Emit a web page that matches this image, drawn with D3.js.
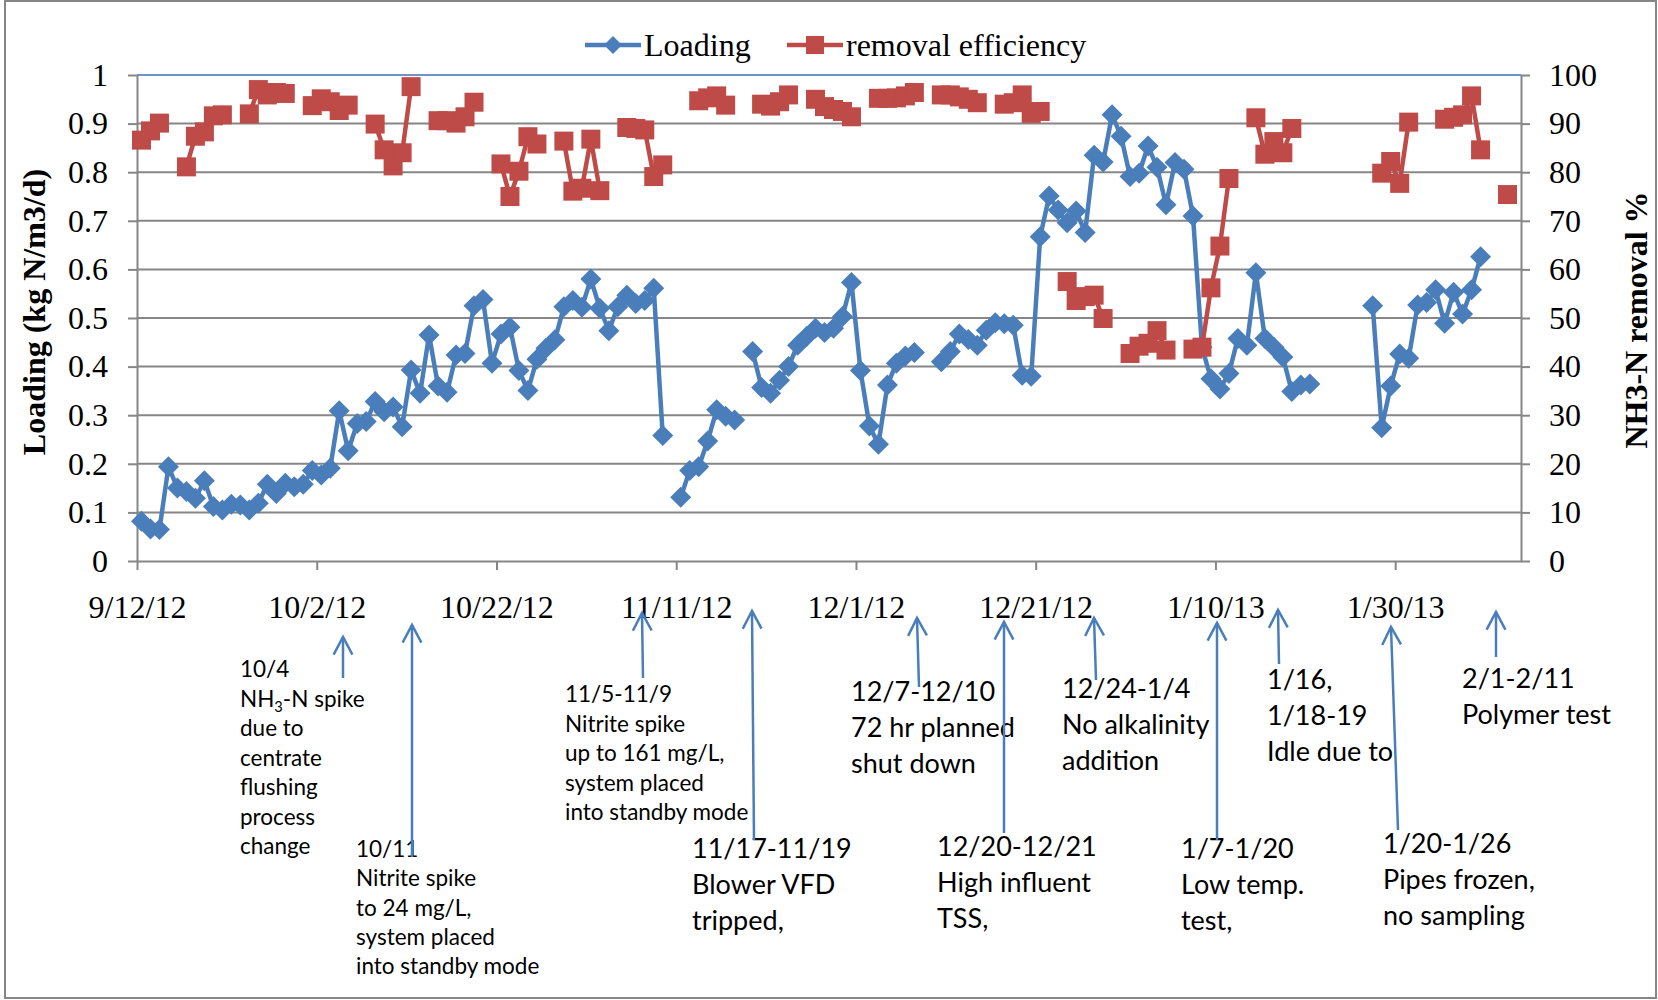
<!DOCTYPE html>
<html>
<head>
<meta charset="utf-8">
<script src="https://cdn.jsdelivr.net/npm/d3@7"></script>
<style>
  body { margin: 0; background: #fff; }
  svg { display: block; }
  .axis text { font-family: "Liberation Serif", "Times New Roman", serif; font-size: 32px; fill: #000; }
  .axis path, .axis line { stroke: #868686; stroke-width: 2; }
  .title { font-family: "Liberation Serif", "Times New Roman", serif; font-size: 32px; font-weight: bold; fill: #000; }
  .legend { font-family: "Liberation Serif", "Times New Roman", serif; font-size: 32px; fill: #000; }
  .note { font-family: Lato, "Open Sans", sans-serif; fill: #000; }
</style>
</head>
<body>
<svg id="chart" width="1658" height="1000"></svg>
<script>
// first sampling day, values below are one per day from here (null = no sample)
var startDay = "2012-09-12";

// Loading (kg N/m3/d), left axis
var loading = [
  0.082, 0.066, 0.065, 0.194, 0.150, 0.143, 0.129, 0.165, 0.112, 0.105,
  0.117, 0.115, 0.105, 0.119, 0.158, 0.139, 0.160, 0.153, 0.158, 0.186,
  0.177, 0.191, 0.309, 0.227, 0.283, 0.287, 0.328, 0.307, 0.317, 0.276,
  0.393, 0.345, 0.465, 0.360, 0.347, 0.424, 0.427, 0.525, 0.538, 0.407,
  0.467, 0.481, 0.392, 0.351, 0.415, 0.438, 0.455, 0.523, 0.536, 0.522,
  0.580, 0.520, 0.474, 0.523, 0.547, 0.530, 0.536, 0.561, 0.258, null,
  0.131, 0.186, 0.194, 0.247, 0.311, 0.298, 0.290, null, 0.431, 0.357,
  0.345, 0.372, 0.400, 0.444, 0.462, 0.479, 0.470, 0.479, 0.503, 0.573,
  0.392, 0.278, 0.240, 0.362, 0.407, 0.422, 0.429, null, null, 0.410,
  0.431, 0.467, 0.456, 0.444, 0.475, 0.490, 0.488, 0.485, 0.382, 0.380,
  0.667, 0.751, 0.722, 0.696, 0.720, 0.676, 0.835, 0.821, 0.918, 0.874,
  0.791, 0.798, 0.854, 0.810, 0.733, 0.820, 0.806, 0.710, 0.440, 0.375,
  0.354, 0.386, 0.458, 0.444, 0.593, 0.458, 0.440, 0.420, 0.349, 0.362,
  0.364, null, null, null, null, null, null, 0.525, 0.274, 0.360,
  0.426, 0.417, 0.527, 0.532, 0.558, 0.489, 0.553, 0.508, 0.558, 0.626
];

// NH3-N removal efficiency (%), right axis
var removal = [
  86.6, 88.5, 90.1, null, null, 81.1, 87.4, 88.3, 91.6, 91.8,
  null, null, 92.0, 97.0, 95.9, 96.4, 96.2, null, null, 93.7,
  95.1, 94.5, 92.7, 93.8, null, null, 89.9, 84.6, 81.3, 84.0,
  97.6, null, null, 90.6, 90.6, 90.1, 91.4, 94.4, null, null,
  81.7, 75.0, 80.2, 87.3, 85.8, null, null, 86.4, 76.1, 76.7,
  86.8, 76.2, null, null, 89.2, 89.0, 88.7, 79.1, 81.5, null,
  null, null, 94.7, 95.3, 95.7, 93.8, null, null, null, 94.0,
  93.6, 94.5, 95.9, null, null, 95.0, 93.5, 92.9, 92.5, 91.4,
  null, null, 95.2, 95.2, 95.3, 95.7, 96.4, null, null, 95.9,
  95.9, 95.5, 95.0, 94.3, null, null, 94.0, 94.3, 95.9, 92.1,
  92.5, null, null, 57.5, 53.6, 54.4, 54.7, 49.9, null, null,
  42.7, 44.2, 44.8, 47.4, 43.4, null, null, 43.6, 44.0, 56.2,
  64.8, 78.7, null, null, 91.2, 83.7, 86.3, 84.0, 89.0, null,
  null, null, null, null, null, null, null, null, 79.8, 82.2,
  77.7, 90.3, null, null, null, 90.9, 91.3, 91.8, 95.7, 84.6,
  null, null, 75.4
];

var axisEnd = "2013-02-13";
var xTicks = ["2012-09-12", "2012-10-02", "2012-10-22", "2012-11-11",
              "2012-12-01", "2012-12-21", "2013-01-10", "2013-01-30"];
var leftTicks = [0, 0.1, 0.2, 0.3, 0.4, 0.5, 0.6, 0.7, 0.8, 0.9, 1];
var rightTicks = [0, 10, 20, 30, 40, 50, 60, 70, 80, 90, 100];

// event notes under the axis
var notes = [
  ["10/4", "NH\u2083-N spike", "due to", "centrate", "flushing", "process", "change"],
  ["10/11", "Nitrite spike", "to 24 mg/L,", "system placed", "into standby mode"],
  ["11/5-11/9", "Nitrite spike", "up to 161 mg/L,", "system placed", "into standby mode"],
  ["11/17-11/19", "Blower VFD", "tripped,"],
  ["12/7-12/10", "72 hr planned", "shut down"],
  ["12/20-12/21", "High influent", "TSS,"],
  ["12/24-1/4", "No alkalinity", "addition"],
  ["1/7-1/20", "Low temp.", "test,"],
  ["1/16,", "1/18-19", "Idle due to"],
  ["1/20-1/26", "Pipes frozen,", "no sampling"],
  ["2/1-2/11", "Polymer test"]
];

// where each note and its arrow sit (pixels)
var noteLayout = [
  {x: 240, y: 677, lh: 29.5, fs: 22.5, tail: [343, 678], head: [343, 637]},
  {x: 356, y: 857, lh: 29.3, fs: 22.5, tail: [412, 857], head: [412, 625]},
  {x: 565, y: 702, lh: 29.5, fs: 22.5, tail: [643, 678], head: [642, 613]},
  {x: 692, y: 858, lh: 36, fs: 27, tail: [754, 840], head: [752, 611]},
  {x: 851, y: 701, lh: 36, fs: 27, tail: [919, 687], head: [917, 618]},
  {x: 937, y: 856, lh: 36, fs: 27, tail: [1004, 833], head: [1004, 622]},
  {x: 1062, y: 698, lh: 36, fs: 27, tail: [1096, 680], head: [1094, 618]},
  {x: 1181, y: 858, lh: 36, fs: 27, tail: [1217, 840], head: [1217, 623]},
  {x: 1267, y: 689, lh: 36, fs: 27, tail: [1279, 664], head: [1278, 610]},
  {x: 1383, y: 853, lh: 36, fs: 27, tail: [1398, 830], head: [1391, 627]},
  {x: 1462, y: 688, lh: 36, fs: 27, tail: [1496, 657], head: [1496, 612]}
];

var blue = '#4a7ebb', red = '#be4b48', grid = '#868686';

var parseDay = d3.utcParse("%Y-%m-%d");
var start = parseDay(startDay);

var svg = d3.select('#chart');

// plot box
var plotLeft = 137, plotRight = 1521, plotTop = 75, plotBottom = 561;

var x = d3.scaleUtc()
          .domain([start, parseDay(axisEnd)])
          .range([plotLeft, plotRight]);
var yL = d3.scaleLinear().domain([0, 1]).range([plotBottom, plotTop]);
var yR = d3.scaleLinear().domain([0, 100]).range([plotBottom, plotTop]);

// points sit in the middle of their day
function dayX(i) {
  return x(d3.utcHour.offset(d3.utcDay.offset(start, i), 12));
}

// outer frame
svg.append('rect')
   .attr('x', 5).attr('y', 1)
   .attr('width', 1651).attr('height', 997)
   .attr('fill', 'none')
   .attr('stroke', grid)
   .attr('stroke-width', 2);

// horizontal gridlines
svg.append('g')
   .selectAll('line')
   .data(leftTicks.filter(function(t) { return t > 0 && t < 1; }))
   .enter().append('line')
   .attr('x1', plotLeft).attr('x2', plotRight)
   .attr('y1', function(d) { return yL(d); })
   .attr('y2', function(d) { return yL(d); })
   .attr('stroke', grid)
   .attr('stroke-width', 2);

svg.append('line')
   .attr('x1', plotLeft).attr('x2', plotRight)
   .attr('y1', yL(1)).attr('y2', yL(1))
   .attr('stroke', '#6f93c6')
   .attr('stroke-width', 2);

// axes
svg.append('g')
   .attr('class', 'axis')
   .attr('transform', 'translate(0,' + plotBottom + ')')
   .call(d3.axisBottom(x)
           .tickValues(xTicks.map(parseDay))
           .tickFormat(d3.utcFormat("%-m/%-d/%y"))
           .tickSizeInner(9)
           .tickSizeOuter(0)
           .tickPadding(25));

svg.append('g')
   .attr('class', 'axis')
   .attr('transform', 'translate(' + plotLeft + ',0)')
   .call(d3.axisLeft(yL)
           .tickValues(leftTicks)
           .tickFormat(function(d) { return String(d); })
           .tickSizeInner(9)
           .tickSizeOuter(0)
           .tickPadding(20));

svg.append('g')
   .attr('class', 'axis')
   .attr('transform', 'translate(' + plotRight + ',0)')
   .call(d3.axisRight(yR)
           .tickValues(rightTicks)
           .tickSizeInner(9)
           .tickSizeOuter(0)
           .tickPadding(19));

svg.selectAll('.axis .domain').attr('stroke', grid);

// series
var diamond = 'M0,-10.5L10.5,0L0,10.5L-10.5,0Z';
var square = 'M-9.5,-9.5H9.5V9.5H-9.5Z';

function drawSeries(values, yScale, color, shape) {
  var pts = values.map(function(v, i) { return {i: i, v: v}; });
  var line = d3.line()
               .defined(function(d) { return d.v != null; })
               .x(function(d) { return dayX(d.i); })
               .y(function(d) { return yScale(d.v); });
  svg.append('path')
     .attr('d', line(pts))
     .attr('fill', 'none')
     .attr('stroke', color)
     .attr('stroke-width', 4.5)
     .attr('stroke-linejoin', 'round');
  svg.append('g')
     .selectAll('path')
     .data(pts.filter(function(d) { return d.v != null; }))
     .enter().append('path')
     .attr('d', shape)
     .attr('transform', function(d) {
        return 'translate(' + dayX(d.i) + ',' + yScale(d.v) + ')';
     })
     .attr('fill', color);
}

drawSeries(loading, yL, blue, diamond);
drawSeries(removal, yR, red, square);

// legend
var lg = svg.append('g');
lg.append('line').attr('x1', 585).attr('x2', 641).attr('y1', 45).attr('y2', 45)
  .attr('stroke', blue).attr('stroke-width', 4.5);
lg.append('path').attr('d', 'M0,-9L9,0L0,9L-9,0Z')
  .attr('transform', 'translate(613,45)').attr('fill', blue);
lg.append('text').attr('class', 'legend').attr('x', 644).attr('y', 56).text('Loading');
lg.append('line').attr('x1', 787).attr('x2', 843).attr('y1', 45).attr('y2', 45)
  .attr('stroke', red).attr('stroke-width', 4.5);
lg.append('path').attr('d', 'M-9,-9H9V9H-9Z')
  .attr('transform', 'translate(815,45)').attr('fill', red);
lg.append('text').attr('class', 'legend').attr('x', 846).attr('y', 56).text('removal efficiency');

// axis titles
svg.append('text')
   .attr('class', 'title')
   .attr('transform', 'translate(45,312) rotate(-90)')
   .attr('text-anchor', 'middle')
   .text('Loading (kg N/m3/d)');

svg.append('text')
   .attr('class', 'title')
   .attr('transform', 'translate(1647,320) rotate(-90)')
   .attr('text-anchor', 'middle')
   .text('NH3-N removal %');

// notes
notes.forEach(function(lines, k) {
  var L = noteLayout[k];
  var t = svg.append('text')
             .attr('class', 'note')
             .attr('font-size', L.fs);
  lines.forEach(function(s, j) {
    var ts = t.append('tspan').attr('x', L.x).attr('y', L.y + j * L.lh);
    if (s.indexOf('\u2083') >= 0) {
      var parts = s.split('\u2083');
      ts.append('tspan').text(parts[0]);
      ts.append('tspan').attr('font-size', L.fs * 0.65).attr('dy', 5).text('3');
      ts.append('tspan').attr('dy', -5).text(parts[1]);
    } else {
      ts.text(s);
    }
  });
});

// arrows on top of the notes
noteLayout.forEach(function(L) {
  var hx = L.head[0], hy = L.head[1];
  var dx = L.tail[0] - hx, dy = L.tail[1] - hy;
  var len = Math.sqrt(dx * dx + dy * dy);
  var ux = dx / len, uy = dy / len;
  var a = 28 * Math.PI / 180, arm = 20;
  function rot(s) {
    return [hx + arm * (ux * Math.cos(s) - uy * Math.sin(s)),
            hy + arm * (ux * Math.sin(s) + uy * Math.cos(s))];
  }
  var p1 = rot(a), p2 = rot(-a);
  svg.append('line')
     .attr('x1', L.tail[0]).attr('y1', L.tail[1])
     .attr('x2', hx).attr('y2', hy)
     .attr('stroke', blue).attr('stroke-width', 2.5);
  svg.append('path')
     .attr('d', 'M' + p1 + 'L' + hx + ',' + hy + 'L' + p2)
     .attr('fill', 'none')
     .attr('stroke', blue)
     .attr('stroke-width', 2.5);
});
</script>
</body>
</html>
